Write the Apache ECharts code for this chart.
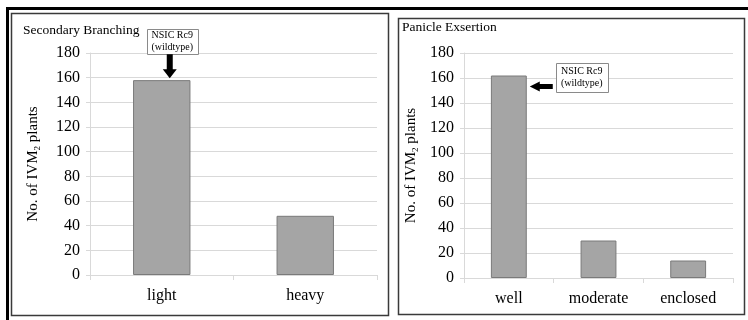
<!DOCTYPE html>
<html>
<head>
<meta charset="utf-8">
<script src="https://cdn.jsdelivr.net/npm/echarts@6/dist/echarts.min.js"></script>
<style>
  html, body { margin: 0; padding: 0; background: #fff; }
  #chart { width: 748px; height: 320px; }
</style>
</head>
<body>
<div id="chart"></div>
<script>
// Secondary branching classes and plant counts
const branchCats = ['light', 'heavy'];
const branchCounts = [158, 48];

// Panicle exsertion classes and plant counts
const exsertCats = ['well', 'moderate', 'enclosed'];
const exsertCounts = [162, 30, 14];

// Shared value axis range
const yMin = 0;
const yMax = 180;
const yStep = 20;

const SERIF = '"Liberation Serif", "Times New Roman", serif';
const GRID_GRAY = '#d9d9d9';

const chart = echarts.init(document.getElementById('chart'), null, { renderer: 'canvas' });

function valueAxis(gridIndex, gap) {
  return {
    type: 'value', gridIndex: gridIndex, min: yMin, max: yMax, interval: yStep,
    name: '{a|No. of IVM}{s|2}{a| plants}',
    nameLocation: 'middle', nameRotate: 90, nameGap: gap,
    nameTextStyle: {
      rich: {
        a: { fontFamily: SERIF, fontSize: 15, color: '#000', lineHeight: 18 },
        s: { fontFamily: SERIF, fontSize: 9, color: '#000', lineHeight: 18, padding: [9, 0, 0, 0] }
      }
    },
    axisLine: { show: true, lineStyle: { color: GRID_GRAY, width: 1 } },
    axisTick: { show: true, length: 4, lineStyle: { color: GRID_GRAY } },
    splitLine: { show: true, lineStyle: { color: GRID_GRAY, width: 1 } },
    axisLabel: { fontFamily: SERIF, fontSize: 16, color: '#000', margin: 10 }
  };
}

function catAxis(gridIndex, cats) {
  return {
    type: 'category', gridIndex: gridIndex, data: cats,
    axisLine: { show: true, lineStyle: { color: GRID_GRAY, width: 1 } },
    axisTick: { show: true, length: 5, alignWithLabel: false, lineStyle: { color: GRID_GRAY } },
    axisLabel: { fontFamily: SERIF, fontSize: 16, color: '#000', margin: 13 },
    splitLine: { show: false }
  };
}

function barSeries(idx, values) {
  return {
    type: 'bar', xAxisIndex: idx, yAxisIndex: idx, data: values,
    barWidth: '40%',
    itemStyle: { color: '#a5a5a5', borderColor: '#7a7a7a', borderWidth: 1 },
    animation: false
  };
}

const GRID_B_WIDTH = 269;

chart.setOption({
  animation: false,
  grid: [
    { left: 90, top: 53, width: 287, height: 222 },
    { left: 464, top: 53, width: GRID_B_WIDTH, height: 225 }
  ],
  xAxis: [catAxis(0, branchCats), catAxis(1, exsertCats)],
  yAxis: [valueAxis(0, 48), valueAxis(1, 44)],
  series: [barSeries(0, branchCounts), barSeries(1, exsertCounts)]
});

// Callouts marking the wildtype bars, placed from the bars' own pixel positions
function calloutBox(cx, cy, w, h) {
  return [
    { type: 'rect', shape: { x: Math.round(cx - w / 2) + 0.5, y: Math.round(cy - h / 2) + 0.5, width: w, height: h },
      style: { fill: '#fff', stroke: '#8a8a8a', lineWidth: 1 }, z: 20 },
    { type: 'text', x: cx, y: cy,
      style: { text: 'NSIC Rc9\n(wildtype)', font: '10px ' + SERIF, fill: '#000', align: 'center', verticalAlign: 'middle', lineHeight: 12 }, z: 21 }
  ];
}

const topA = chart.convertToPixel({ xAxisIndex: 0, yAxisIndex: 0 }, [0, branchCounts[0]]);
const topB = chart.convertToPixel({ xAxisIndex: 1, yAxisIndex: 1 }, [0, exsertCounts[0]]);
const bandB = GRID_B_WIDTH / exsertCats.length;

// down arrow above "light"
const ax = topA[0] + 8, tipY = topA[1] - 2;
const downArrow = {
  type: 'polygon', z: 20,
  shape: { points: [[ax - 3, tipY - 24], [ax + 3, tipY - 24], [ax + 3, tipY - 9], [ax + 7, tipY - 9], [ax, tipY], [ax - 7, tipY - 9], [ax - 3, tipY - 9]] },
  style: { fill: '#000' }
};

// left arrow beside "well"
const tipX = topB[0] + bandB * 0.2 + 3, ay = topB[1] + 11;
const leftArrow = {
  type: 'polygon', z: 20,
  shape: { points: [[tipX, ay], [tipX + 10, ay - 5], [tipX + 10, ay - 2.5], [tipX + 23, ay - 2.5], [tipX + 23, ay + 2.5], [tipX + 10, ay + 2.5], [tipX + 10, ay + 5]] },
  style: { fill: '#000' }
};

const frames = [
  // panel frames
  { type: 'rect', shape: { x: 11.5, y: 13.5, width: 377, height: 302 }, style: { fill: null, stroke: '#3a3a3a', lineWidth: 1.5 }, z: 10 },
  { type: 'rect', shape: { x: 398.5, y: 18.5, width: 346, height: 296 }, style: { fill: null, stroke: '#3a3a3a', lineWidth: 1.5 }, z: 10 },
  // outer frame (top and left edges)
  { type: 'line', shape: { x1: 6, y1: 8.5, x2: 748, y2: 8.5 }, style: { stroke: '#000', lineWidth: 3 }, z: 10 },
  { type: 'line', shape: { x1: 7.5, y1: 7, x2: 7.5, y2: 320 }, style: { stroke: '#000', lineWidth: 3 }, z: 10 },
  // panel titles
  { type: 'text', x: 23, y: 30, style: { text: 'Secondary Branching', font: '13.5px ' + SERIF, fill: '#000', verticalAlign: 'middle' }, z: 10 },
  { type: 'text', x: 402, y: 27, style: { text: 'Panicle Exsertion', font: '13.5px ' + SERIF, fill: '#000', verticalAlign: 'middle' }, z: 10 }
];

chart.setOption({
  graphic: frames.concat(
    calloutBox(ax + 2.5, tipY - 37, 51, 25),
    [downArrow],
    calloutBox(tipX + 52, ay - 9, 52, 29),
    [leftArrow]
  )
});
</script>
</body>
</html>
